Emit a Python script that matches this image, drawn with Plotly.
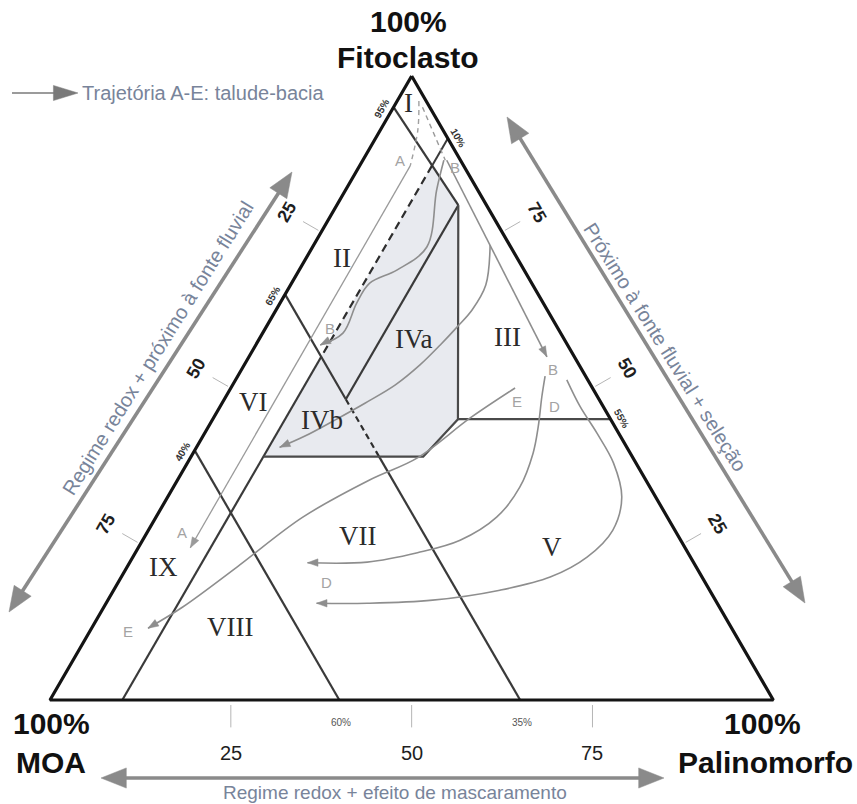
import numpy as np
import plotly.graph_objects as go

H = np.sqrt(3) / 2.0


def tern(F, P):
    """(Fitoclasto %, Palinomorfo %) -> cartesian position; MOA is the remainder."""
    F = np.asarray(F, dtype=float)
    P = np.asarray(P, dtype=float)
    return P + F / 2.0, F * H


# ---------------------------------------------------------------- data
# all compositions are given as Fitoclasto (F) and Palinomorfo (P) in %,
# MOA = 100 - F - P

frame_F = [100, 0, 0, 100]
frame_P = [0, 0, 100, 0]

# field boundaries
moa05_F, moa05_P = [95, 85.6, 79.3], [0, 10, 16.8]
pal10_top_F, pal10_top_P = [90, 85.6], [10, 10]
pal10_dash_F, pal10_dash_P = [85.6, 55], [10, 10]
pal10_low_F, pal10_low_P = [55, 0], [10, 10]
moa35_top_F, moa35_top_P = [65, 48.2], [0, 16.8]
moa35_dash_F, moa35_dash_P = [48.2, 39], [16.8, 26]
moa35_low_F, moa35_low_P = [39, 0], [26, 65]
moa60_F, moa60_P = [40, 0], [0, 40]
iv_split_F, iv_split_P = [79.3, 48.2], [16.8, 16.8]
iv_edge_F, iv_edge_P = [79.3, 45, 39, 39], [16.8, 33.9, 32.1, 10]
fito45_F, fito45_P = [45, 45], [33.9, 55]

# shaded field IV
field4_F = [85.6, 79.3, 45, 39, 39]
field4_P = [10, 16.8, 33.9, 32.1, 10]

# field names
field_names = ['I', 'II', 'III', 'IVa', 'IVb', 'V', 'VI', 'VII', 'VIII', 'IX']
field_F = [95.6, 70.8, 58.2, 57.9, 44.9, 24.5, 47.8, 26.3, 11.7, 21.3]
field_P = [1.8, 5.0, 34.2, 21.3, 15.2, 57.1, 4.2, 29.3, 19.0, 5.0]

# trajectories A-E
trajA_dash_F, trajA_dash_P = [96, 91.3, 85.6], [3.0, 5.2, 7.0]
trajA_F, trajA_P = [85.6, 24.4], [7.0, 7.2]
trajB_dash_F, trajB_dash_P = [95, 86.5], [4.0, 11.4]
trajB_right_F, trajB_right_P = [86.5, 55.0], [11.6, 41.2]
trajB_left_F = [86.5, 81.7, 72.6, 68.9, 66.8, 63.6, 58.8, 56.9]
trajB_left_P = [11.2, 12.6, 15.8, 13.5, 10.8, 10.6, 11.1, 8.9]
trajC_F = [72.9, 66.5, 62.5, 59.8, 56.9, 53.7, 50.5, 47.6, 44.9, 42.3, 40.5]
trajC_P = [24.4, 27.0, 27.1, 26.4, 25.5, 24.3, 22.5, 19.8, 17.0, 14.1, 11.5]
trajD_in_F = [51.9, 48.6, 43.8, 39.6, 34.1, 29.3, 25.6, 23.6, 22.1, 22.0]
trajD_in_P = [42.5, 43.7, 45.6, 47.0, 47.9, 47.1, 43.9, 39.0, 32.8, 24.6]
trajD_out_F = [51.3, 47.0, 42.8, 38.0, 32.5, 27.2, 22.9, 19.7, 17.6, 16.0, 15.5, 15.5]
trajD_out_P = [45.8, 49.8, 54.2, 58.9, 62.8, 64.2, 62.8, 59.3, 53.4, 44.9, 36.1, 29.1]
trajE_F = [50.0, 45.2, 38.8, 35.3, 29.3, 21.3, 14.9, 11.5]
trajE_P = [39.3, 35.5, 31.4, 26.6, 20.3, 15.2, 10.9, 7.8]

# trajectory letters
letter_text = ['A', 'A', 'B', 'B', 'B', 'D', 'D', 'E', 'E']
letter_F = [86.5, 26.9, 85.4, 59.6, 52.9, 47.0, 18.9, 47.8, 10.9]
letter_P = [5.1, 4.8, 13.3, 8.9, 43.1, 46.3, 28.8, 40.7, 5.3]

# axis ticks
tick_values = [25, 50, 75]

# boundary percentages written at the sides
left_mark_F, left_mark_text = [95, 65, 40], ['95%', '65%', '40%']
right_mark_P, right_mark_text = [10, 55], ['10%', '55%']
base_mark_MOA, base_mark_text = [60, 35], ['60%', '35%']

# ---------------------------------------------------------------- screen geometry
W, HT = 857, 804
X0, Y0 = 50.0, 700.0          # pixel position of the MOA vertex
SX, SY = 7.233, 7.205         # pixels per unit
x_range = [-X0 / SX, (W - X0) / SX]
y_range = [(Y0 - HT) / SY, Y0 / SY]


def px(xp, yp):
    return (xp - X0) / SX, (Y0 - yp) / SY


INK = '#141414'
EDGE = '#3a3a3a'
TRAJ = '#8e8e8e'
NOTE = '#78849a'
SANS = 'Liberation Sans, Arial, sans-serif'
SERIF = 'Liberation Serif, Times New Roman, serif'

fig = go.Figure()


def add_line(x, y, color, width, dash=None, shape='linear'):
    fig.add_trace(go.Scatter(x=list(x), y=list(y), mode='lines',
                             line=dict(color=color, width=width, dash=dash, shape=shape),
                             hoverinfo='skip', showlegend=False))


def add_tline(F, P, color, width, dash=None, shape='linear'):
    x, y = tern(F, P)
    add_line(x, y, color, width, dash, shape)


def add_poly(xs, ys, color):
    fig.add_trace(go.Scatter(x=list(xs), y=list(ys), mode='lines', fill='toself',
                             fillcolor=color, line=dict(color=color, width=0.5),
                             hoverinfo='skip', showlegend=False))


def add_head(tip, tail, length, half, color):
    tx, ty = tip
    dx, dy = tx - tail[0], ty - tail[1]
    n = np.hypot(dx, dy)
    ux, uy = dx / n, dy / n
    bx, by = tx - ux * length, ty - uy * length
    nx, ny = -uy, ux
    add_poly([tx, bx + nx * half, bx - nx * half, tx],
             [ty, by + ny * half, by - ny * half, ty], color)
    return bx + ux * 0.3, by + uy * 0.3


def add_big_arrow(a, b, color, width, hl, hh, both=True):
    b1 = add_head(b, a, hl, hh, color)
    a1 = add_head(a, b, hl, hh, color) if both else a
    add_line([a1[0], b1[0]], [a1[1], b1[1]], color, width)


def add_traj(F, P, color=TRAJ, width=1.6, shape='spline'):
    x, y = tern(F, P)
    add_line(x, y, color, width, shape=shape)
    add_head((x[-1], y[-1]), (x[-2], y[-2]), 1.45, 0.52, color)


# shaded field IV
fx, fy = tern(field4_F, field4_P)
add_poly(list(fx) + [fx[0]], list(fy) + [fy[0]], '#e8eaef')

# axis ticks
for v in tick_values:
    sx, sy = tern(100 - v, 0)
    n = np.array([-H, 0.5])
    add_line([sx + n[0] * 0.45, sx + n[0] * 2.9], [sy + n[1] * 0.45, sy + n[1] * 2.9], '#b5b5b5', 1)
    sx, sy = tern(v, 100 - v)
    n = np.array([H, 0.5])
    add_line([sx + n[0] * 0.45, sx + n[0] * 2.9], [sy + n[1] * 0.45, sy + n[1] * 2.9], '#b5b5b5', 1)
    bx, by = tern(0, v)
    add_line([bx, bx], [by - 0.7, by - 3.8], '#b5b5b5', 1)

# field boundaries
add_tline(moa05_F, moa05_P, EDGE, 2.2)
add_tline(pal10_top_F, pal10_top_P, EDGE, 2.0)
add_tline(pal10_dash_F, pal10_dash_P, '#2e2e2e', 2.2, dash='8px,5px')
add_tline(pal10_low_F, pal10_low_P, EDGE, 2.2)
add_tline(moa35_top_F, moa35_top_P, EDGE, 2.2)
add_tline(moa35_dash_F, moa35_dash_P, '#2e2e2e', 2.2, dash='6px,4px')
add_tline(moa35_low_F, moa35_low_P, EDGE, 2.2)
add_tline(moa60_F, moa60_P, EDGE, 2.2)
add_tline(iv_split_F, iv_split_P, EDGE, 2.2)
add_tline(iv_edge_F, iv_edge_P, '#4a4a4a', 2.2)
add_tline(fito45_F, fito45_P, '#4a4a4a', 2.2)

# trajectories
add_tline(trajA_dash_F, trajA_dash_P, '#a0a0a0', 1.4, dash='5px,4px', shape='spline')
add_traj(trajA_F, trajA_P, color='#9a9a9a', width=1.3, shape='linear')
add_tline(trajB_dash_F, trajB_dash_P, '#9a9a9a', 1.4, dash='5px,4px')
add_traj(trajB_right_F, trajB_right_P, shape='linear')
add_traj(trajB_left_F, trajB_left_P)
add_traj(trajC_F, trajC_P)
add_traj(trajD_in_F, trajD_in_P)
add_traj(trajD_out_F, trajD_out_P)
add_traj(trajE_F, trajE_P)

# triangle frame
add_tline(frame_F, frame_P, INK, 3.2)

# decorative double arrows along the sides and the legend arrow
add_big_arrow(px(9, 612), px(292, 172), '#8a8a8a', 3.6, 3.5, 1.4)
add_big_arrow(px(507, 117), px(805, 603), '#8a8a8a', 3.6, 3.5, 1.4)
add_big_arrow(px(101, 778), px(664, 778), '#8a8a8a', 3.6, 3.5, 1.4)
add_big_arrow(px(12, 93), px(78, 93), '#7a7a7a', 1.6, 3.4, 1.05, both=False)

ann = []


def text(x, y, s, size, color, angle=0, family=SANS, xanchor='center'):
    ann.append(dict(x=x, y=y, xref='x', yref='y', text=s, showarrow=False,
                    textangle=angle, xanchor=xanchor, yanchor='middle',
                    font=dict(size=size, color=color, family=family)))


# field names
for name, F, P in zip(field_names, field_F, field_P):
    x, y = tern(F, P)
    text(float(x), float(y), name, 27, '#2b2b2b', family=SERIF)

# trajectory letters
for s, F, P in zip(letter_text, letter_F, letter_P):
    x, y = tern(F, P)
    text(float(x), float(y), s, 15, '#a3a3a3')

# tick labels
for v in tick_values:
    sx, sy = tern(100 - v, 0)
    text(float(sx - H * 5.5), float(sy + 0.5 * 5.5), '<b>%d</b>' % v, 18, '#1e1e1e', angle=-60)
    sx, sy = tern(v, 100 - v)
    text(float(sx + H * 5.5), float(sy + 0.5 * 5.5), '<b>%d</b>' % v, 18, '#1e1e1e', angle=60)
    bx, by = tern(0, v)
    text(float(bx), float(by - 7.3), '%d' % v, 20, '#1e1e1e')

# boundary percentages
for F, s in zip(left_mark_F, left_mark_text):
    sx, sy = tern(F, 0)
    x = sx - H * 1.3 - 0.5 * 1.0
    y = sy + 0.5 * 1.3 - H * 1.0
    text(float(x), float(y), '<b>%s</b>' % s, 10, '#333333', angle=-60)
for P, s in zip(right_mark_P, right_mark_text):
    sx, sy = tern(100 - P, P)
    x = sx + H * 1.3 + 0.5 * 0.7
    y = sy + 0.5 * 1.3 - H * 0.7
    text(float(x), float(y), '<b>%s</b>' % s, 10, '#333333', angle=60)
for M, s in zip(base_mark_MOA, base_mark_text):
    bx, by = tern(0, 100 - M)
    text(float(bx + 0.3), float(by - 3.1), s, 10, '#555555')

# vertex titles
for (xp, yp), s in [((408, 21), '100%'), ((408, 57), 'Fitoclasto'),
                    ((51, 723), '100%'), ((51, 762), 'MOA'),
                    ((762, 723), '100%'), ((765, 762), 'Palinomorfo')]:
    x, y = px(xp, yp)
    text(x, y, '<b>%s</b>' % s, 30, '#111111')

# arrow captions and legend
x, y = px(158, 348)
text(x, y, 'Regime redox + próximo à fonte fluvial', 20, NOTE, angle=-58)
x, y = px(665, 347)
text(x, y, 'Próximo à fonte fluvial + seleção', 20, NOTE, angle=58)
x, y = px(395, 792)
text(x, y, 'Regime redox + efeito de mascaramento', 19, NOTE)
x, y = px(80, 93)
text(x, y, 'Trajetória A-E: talude-bacia', 20, NOTE, xanchor='left')

fig.update_layout(
    width=W, height=HT, margin=dict(l=0, r=0, t=0, b=0),
    paper_bgcolor='white', plot_bgcolor='white',
    xaxis=dict(range=x_range, visible=False, fixedrange=True),
    yaxis=dict(range=y_range, visible=False, fixedrange=True),
    annotations=ann, showlegend=False,
)

fig.write_html('out.html')
